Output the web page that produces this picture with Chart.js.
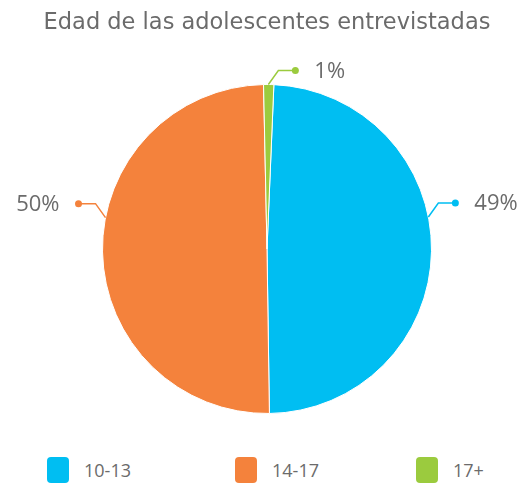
<!DOCTYPE html>
<html lang="es">
<head>
    <meta charset="UTF-8">
    <title>Edad de las adolescentes entrevistadas</title>
    <script src="https://cdn.jsdelivr.net/npm/chart.js"></script>
    <style>
        body {
            margin: 0;
            width: 520px;
            height: 484px;
            overflow: hidden;
            background: #fff;
            font-family: "Open Sans", sans-serif;
            position: relative;
        }
        #wrap {
            position: absolute;
            left: 0;
            top: 0;
            width: 520px;
            height: 445px;
        }
        #legend {
            position: absolute;
            top: 457px;
            left: 47px;
            display: grid;
            grid-template-columns: 188px 181px auto;
        }
        .item {
            display: flex;
            align-items: center;
            color: #6b6b6b;
            font-size: 18px;
        }
        .box {
            width: 22px;
            height: 26px;
            border-radius: 4px;
            margin-right: 15px;
        }
    </style>
</head>
<body>
    <div id="wrap"><canvas id="chart"></canvas></div>
    <div id="legend"></div>

    <script>
        let categories = ["10-13", "14-17", "17+"];
        let values = [49.1, 49.9, 1.0];
        let valueLabels = ["49%", "50%", "1%"];
        let colors = ["#00bef2", "#f4823c", "#9bcb3e"];

        const textColor = "#6b6b6b";

        // outside labels with a bent leader line and a dot
        const outLabels = {
            id: "outLabels",
            afterDatasetsDraw(chart) {
                let ctx = chart.ctx;
                let meta = chart.getDatasetMeta(0);
                meta.data.forEach((arc, i) => {
                    let p = arc.getProps(["x", "y", "startAngle", "endAngle", "outerRadius"], true);
                    let a = (p.startAngle + p.endAngle) / 2 + Math.PI / 2;
                    let side = Math.sin(a) >= 0 ? 1 : -1;
                    a -= side * (12 * Math.PI / 180) * Math.abs(Math.sin(a));
                    let ax = p.x + p.outerRadius * Math.sin(a);
                    let ay = p.y - p.outerRadius * Math.cos(a);
                    let kx = ax + side * 10;
                    let ky = ay - 14;
                    let dx = kx + side * 17;

                    ctx.save();
                    ctx.strokeStyle = colors[i];
                    ctx.fillStyle = colors[i];
                    ctx.lineWidth = 1.5;
                    ctx.beginPath();
                    ctx.moveTo(ax, ay);
                    ctx.lineTo(kx, ky);
                    ctx.lineTo(dx, ky);
                    ctx.stroke();
                    ctx.beginPath();
                    ctx.arc(dx, ky, 3.5, 0, Math.PI * 2);
                    ctx.fill();

                    ctx.fillStyle = textColor;
                    ctx.font = "22px 'Open Sans'";
                    ctx.textBaseline = "middle";
                    ctx.textAlign = side > 0 ? "left" : "right";
                    ctx.fillText(valueLabels[i], dx + side * 19, ky + 1);
                    ctx.restore();
                });
            }
        };

        new Chart(document.getElementById("chart"), {
            type: "pie",
            data: {
                labels: categories,
                datasets: [{
                    data: values,
                    backgroundColor: colors,
                    borderColor: "#ffffff",
                    borderWidth: 1
                }]
            },
            options: {
                responsive: true,
                maintainAspectRatio: false,
                animation: false,
                rotation: 2.4,
                layout: {
                    padding: { top: 0, bottom: 31, left: 14, right: 0 }
                },
                plugins: {
                    legend: { display: false },
                    tooltip: { enabled: false },
                    title: {
                        display: true,
                        text: "Edad de las adolescentes entrevistadas",
                        color: textColor,
                        font: { family: "DejaVu Sans", size: 22.5, weight: "normal", lineHeight: 1.2 },
                        padding: { top: 10, bottom: 47 }
                    }
                }
            },
            plugins: [outLabels]
        });

        let legend = document.getElementById("legend");
        categories.forEach((c, i) => {
            legend.innerHTML += `<div class="item"><span class="box" style="background:${colors[i]}"></span>${c}</div>`;
        });
    </script>
</body>
</html>
